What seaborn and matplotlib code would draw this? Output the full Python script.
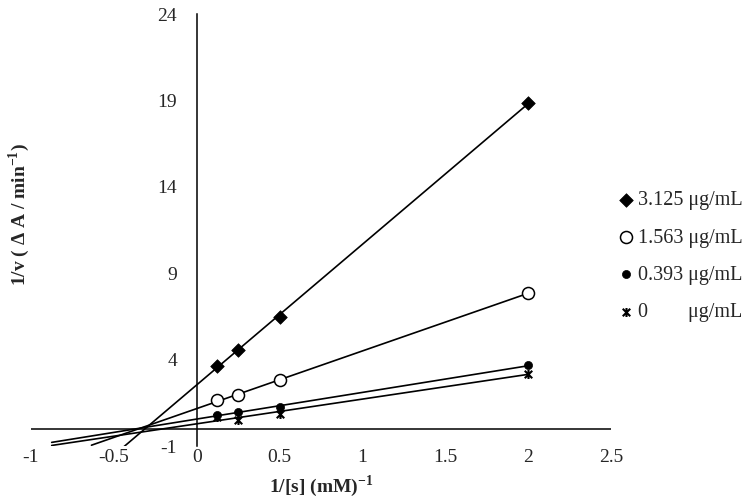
import numpy as np
import pandas as pd
import matplotlib
matplotlib.use("Agg")
import matplotlib.pyplot as plt
from matplotlib.path import Path
import seaborn as sns

# ---- data ----
x_vals = [0.125, 0.25, 0.5, 2.0]
conc_labels = ["3.125 μg/mL", "1.563 μg/mL", "0.393 μg/mL", "0        μg/mL"]
y_3125 = [3.64, 4.57, 6.49, 18.83]
y_1563 = [1.64, 1.93, 2.84, 7.84]
y_0393 = [0.82, 0.94, 1.25, 3.66]
y_0000 = [0.68, 0.52, 0.87, 3.18]
backward = [0.57, 0.76, 1.0, 1.0]   # trendline backward forecast
x_ticks = [-1, -0.5, 0, 0.5, 1, 1.5, 2, 2.5]
x_tick_labels = ["-1", "-0.5", "0", "0.5", "1", "1.5", "2", "2.5"]
y_ticks = [-1, 4, 9, 14, 19, 24]
y_tick_labels = ["-1", "4", "9", "14", "19", "24"]

sns.set_style("white")
plt.rcParams["font.family"] = ["Liberation Serif", "DejaVu Serif"]
plt.rcParams["mathtext.fontset"] = "custom"
plt.rcParams["mathtext.rm"] = "Liberation Serif"
plt.rcParams["mathtext.bf"] = "Liberation Serif:bold"

star = Path([(-1, -1), (1, 1), (-1, 1), (1, -1), (0, -1.2), (0, 1.2)],
            [Path.MOVETO, Path.LINETO, Path.MOVETO, Path.LINETO, Path.MOVETO, Path.LINETO])

styles = [
    dict(marker="D", s=48, color="black", edgecolor="black", linewidth=0.5),
    dict(marker="o", s=75, facecolor="white", edgecolor="black", linewidth=1.1),
    dict(marker="o", s=34, color="black", edgecolor="black", linewidth=0.5),
    dict(marker=star, s=42, color="black", edgecolor="black", linewidth=1.5),
]
series = [y_3125, y_1563, y_0393, y_0000]

fig = plt.figure(figsize=(7.5, 4.99), dpi=100)
ax = fig.add_axes([0.0413, 0.1062, 0.7733, 0.8657])

for ys, lab, st, bk in zip(series, conc_labels, styles, backward):
    xs = np.array(x_vals)
    slope, icpt = np.polyfit(xs, np.array(ys), 1)
    xl = np.array([xs.min() - bk, xs.max()])
    df_line = pd.DataFrame({"x": xl, "y": slope * xl + icpt})
    sns.lineplot(data=df_line, x="x", y="y", ax=ax, color="black", lw=1.2,
                 legend=False, zorder=3)
for ys, lab, st in zip(series, conc_labels, styles):
    df = pd.DataFrame({"x": x_vals, "y": ys})
    sns.scatterplot(data=df, x="x", y="y", ax=ax, label=lab, zorder=4, **st)

ax.set_xlim(-1, 2.5)
ax.set_ylim(-1, 24)
ax.set_xticks(x_ticks)
ax.set_xticklabels(x_tick_labels)
ax.set_yticks(y_ticks)
ax.set_yticklabels(y_tick_labels)
ax.tick_params(axis="both", length=0, labelsize=14)
ax.tick_params(axis="x", pad=2)
ax.tick_params(axis="y", pad=14)

for s in ["top", "right", "bottom"]:
    ax.spines[s].set_visible(False)
ax.spines["left"].set_position(("data", 0))
ax.spines["left"].set_color("black")
ax.spines["left"].set_linewidth(1.1)
ax.axhline(0, color="black", lw=1.1, zorder=2)

ax.set_xlabel(r"1/[s] (mM)$^{\mathbf{-1}}$", fontsize=14, fontweight="bold")
ax.xaxis.set_label_coords(0.5, -0.062)
ax.set_ylabel(r"1/v ( Δ A / min$^{\mathbf{-1}}$)", fontsize=14, fontweight="bold")
ax.yaxis.set_label_coords(0.001, 0.535)

ax.legend(loc="upper left", bbox_to_anchor=(0.802, 0.645),
          bbox_transform=fig.transFigure, frameon=False,
          prop={"size": 14.5},
          handletextpad=0.1, handlelength=1.0, labelspacing=0.9,
          borderpad=0.2)

fig.savefig("out.png", dpi=100, facecolor="white")
